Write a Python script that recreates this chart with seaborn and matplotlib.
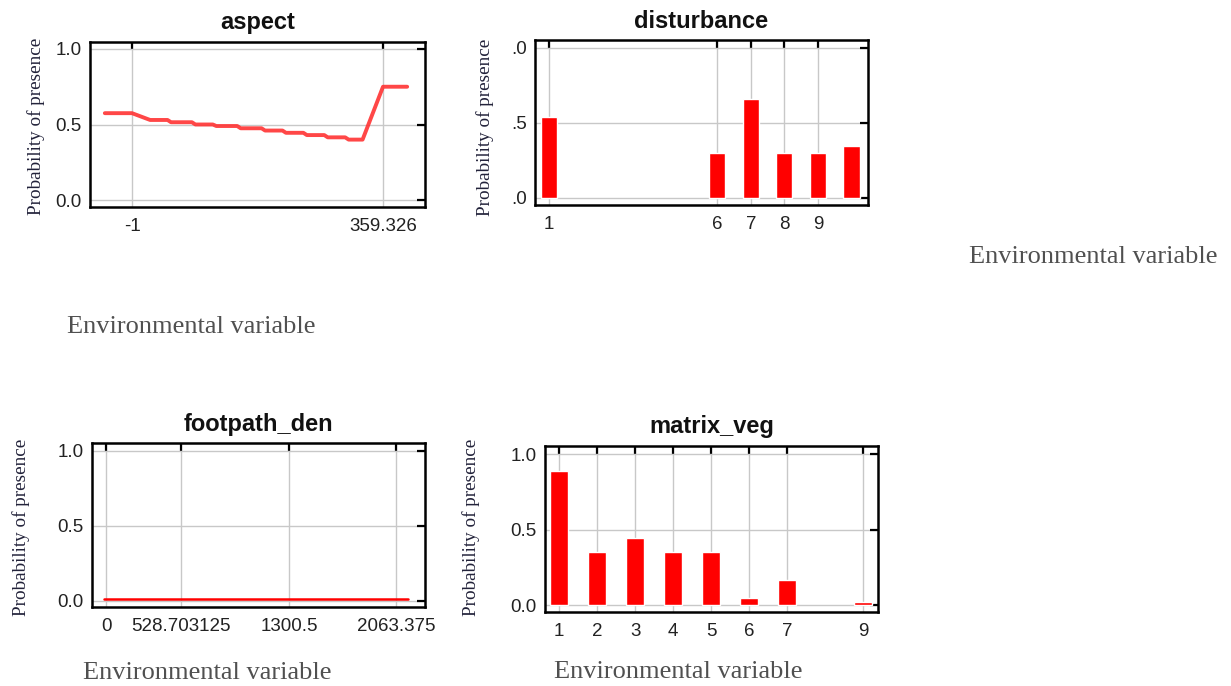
import numpy as np
import matplotlib
matplotlib.use("Agg")
import matplotlib.pyplot as plt
import pandas as pd
import seaborn as sns

# aspect response curve (stepped)
aspect_x = [-40, -1, 25, 50, 55, 85, 90, 115, 120, 150, 155, 185, 190, 215,
            220, 245, 250, 275, 280, 305, 310, 330, 359.326, 394]
aspect_y = [0.575, 0.575, 0.53, 0.53, 0.515, 0.515, 0.50, 0.50, 0.49, 0.49,
            0.475, 0.475, 0.46, 0.46, 0.445, 0.445, 0.43, 0.43, 0.415, 0.415,
            0.40, 0.40, 0.75, 0.75]
aspect_ticks = [-1, 359.326]

# disturbance categories
dist_cat = [1, 6, 7, 8, 9, 10]
dist_val = [0.538, 0.298, 0.658, 0.298, 0.298, 0.349]
dist_ticks = [1, 6, 7, 8, 9]

# footpath density response
foot_x = [-19, 2151]
foot_y = [0.011, 0.011]
foot_ticks = [0, 528.703125, 1300.5, 2063.375]

# matrix vegetation categories
veg_cat = [1, 2, 3, 4, 5, 6, 7, 9]
veg_val = [0.887, 0.349, 0.446, 0.349, 0.349, 0.044, 0.164, 0.018]
veg_ticks = [1, 2, 3, 4, 5, 6, 7, 9]

W, H = 1231, 686
sns.set_style("white")
plt.rcParams['font.family'] = ['Liberation Sans', 'DejaVu Sans']

fig = plt.figure(figsize=(W / 100, H / 100), dpi=100)


def box(x0, x1, y0, y1):
    return [x0 / W, 1 - y1 / H, (x1 - x0) / W, (y1 - y0) / H]


def style(ax, title, xticks, xlabels, ylabels, xlim, ylim):
    ax.set_xlim(*xlim)
    ax.set_ylim(*ylim)
    ax.set_xticks(xticks)
    ax.set_xticklabels(xlabels)
    ax.set_yticks([0, 0.5, 1.0])
    ax.set_yticklabels(ylabels)
    ax.grid(True, color='#c8c8c8', linewidth=1)
    ax.set_axisbelow(True)
    for s in ax.spines.values():
        s.set_visible(True)
        s.set_color('black')
        s.set_linewidth(1.8)
    ax.tick_params(direction='in', length=6, width=1.6, color='black',
                   top=True, right=True, labelsize=13.5, labelcolor='#222222')
    ax.tick_params(axis='x', pad=8)
    ax.tick_params(axis='y', pad=6)
    ax.set_xlabel('')
    ax.set_ylabel('')
    ax.set_title(title, fontsize=17, fontweight='bold', pad=9,
                 color='#111111')


def ylab(x, y):
    fig.text(x / W, 1 - y / H, 'Probability of presence', rotation=90,
             ha='center', va='center', family='Liberation Serif',
             fontsize=13.8, color='#22223a')


def envlab(x, y):
    fig.text(x / W, 1 - y / H, 'Environmental variable', ha='center',
             va='center', family='Liberation Serif', fontsize=19,
             color='#505050')


# aspect
ax1 = fig.add_axes(box(90, 425, 42, 207))
sns.lineplot(x=aspect_x, y=aspect_y, ax=ax1, color='#ff3333',
             linewidth=2.8, alpha=0.9)
style(ax1, 'aspect', aspect_ticks, ['-1', '359.326'], ['0.0', '0.5', '1.0'],
      (-61.3, 419.6), (-0.046, 1.046))

# disturbance
ax2 = fig.add_axes(box(535, 868, 40, 205))
sns.barplot(x=dist_cat, y=dist_val, ax=ax2, native_scale=True, width=0.48,
            color='red', saturation=1, errorbar=None)
style(ax2, 'disturbance', dist_ticks, [str(t) for t in dist_ticks],
      ['.0', '.5', '.0'], (0.574, 10.49), (-0.047, 1.053))

# footpath_den
ax3 = fig.add_axes(box(92, 425, 443, 607))
sns.lineplot(x=foot_x, y=foot_y, ax=ax3, color='red', linewidth=1.8)
style(ax3, 'footpath_den', foot_ticks,
      ['0', '528.703125', '1300.5', '2063.375'], ['0.0', '0.5', '1.0'],
      (-101.8, 2270), (-0.04, 1.051))

# matrix_veg
ax4 = fig.add_axes(box(545, 878, 446, 612))
sns.barplot(x=veg_cat, y=veg_val, ax=ax4, native_scale=True, width=0.47,
            color='red', saturation=1, errorbar=None)
style(ax4, 'matrix_veg', veg_ticks, [str(t) for t in veg_ticks],
      ['0.0', '0.5', '1.0'], (0.624, 9.39), (-0.046, 1.053))

ylab(36, 126)
ylab(485, 127)
ylab(21, 527)
ylab(471, 527)

envlab(191, 327)
envlab(1093, 257)
envlab(207, 673)
envlab(678, 672)

fig.savefig('out.png', dpi=100)
